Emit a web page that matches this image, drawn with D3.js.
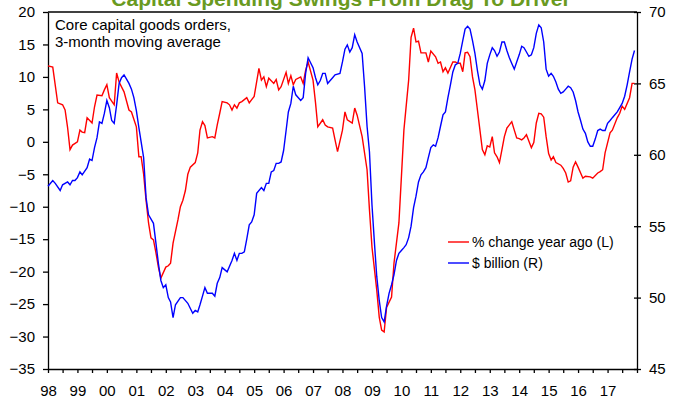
<!DOCTYPE html>
<html>
<head>
<meta charset="utf-8">
<script src="https://cdn.jsdelivr.net/npm/d3@7"></script>
<style>
  body { margin: 0; background: #fff; }
  svg { display: block; font-family: "Liberation Sans", Arial, sans-serif; }
</style>
</head>
<body>
<div id="chart"></div>
<script>
const title = "Capital Spending Swings From Drag To Driver";
const note = ["Core capital goods orders,", "3-month moving average"];
const seriesNames = ["% change year ago (L)", "$ billion (R)"];
const leftTicks = [-35, -30, -25, -20, -15, -10, -5, 0, 5, 10, 15, 20];
const rightTicks = [45, 50, 55, 60, 65, 70];

// [months since Jan 1998, % change year ago]
const pctChange = [
    [0, 11.7], [2, 11.5], [4, 6.0], [6, 5.7], [7, 4.9], [8, 2.2], [9, -1.2], [10, -0.5],
    [12, 0.0], [13, 1.8], [14, 1.5], [15, 1.4], [16, 3.7], [18, 2.9], [19, 5.4], [20, 7.2],
    [22, 7.1], [23, 8.0], [24, 8.8], [25, 6.8], [27, 5.7], [28, 10.6], [29, 9.2], [31, 7.7],
    [33, 4.9], [34, 4.6], [36, 2.3], [37, -2.3], [38, -2.3], [39, -5.0], [40, -9.0], [41, -12.5],
    [42, -14.8], [43, -15.1], [44, -17.1], [45, -19.3], [46, -21.0], [48, -19.3], [49, -19.1], [50, -18.7],
    [51, -15.6], [53, -12.0], [54, -10.0], [55, -9.0], [56, -7.5], [57, -5.0], [58, -3.9], [60, -3.2],
    [61, -1.7], [62, 1.8], [63, 3.1], [64, 2.5], [65, 0.6], [67, 0.8], [68, 0.6], [69, 2.6],
    [70, 4.4], [71, 6.2], [73, 6.0], [74, 5.7], [75, 4.9], [76, 5.7], [77, 5.2], [78, 6.0],
    [79, 6.2], [81, 6.8], [82, 6.0], [83, 6.5], [84, 7.0], [86, 11.3], [87, 9.5], [88, 10.0],
    [89, 8.5], [90, 9.8], [92, 9.0], [93, 9.6], [94, 8.0], [95, 8.5], [97, 10.7], [98, 9.0],
    [99, 10.2], [100, 8.8], [101, 9.6], [103, 10.0], [104, 9.0], [105, 11.0], [106, 12.3], [108, 9.5],
    [109, 6.0], [110, 2.3], [112, 3.4], [113, 2.6], [114, 2.3], [116, 2.1], [117, 0.3], [118, -1.5],
    [120, 1.8], [121, 4.6], [122, 3.4], [124, 2.9], [125, 5.2], [126, 4.1], [128, 0.8], [130, -4.3],
    [131, -10.5], [132, -16.2], [134, -22.8], [135, -27.0], [136, -29.0], [137, -29.3], [138, -25.5], [140, -23.9],
    [141, -18.7], [143, -12.5], [144, -5.4], [145, 1.8], [147, 9.5], [148, 16.1], [149, 17.5], [150, 15.4],
    [151, 15.5], [152, 13.7], [154, 13.7], [155, 12.3], [156, 14.0], [158, 13.1], [159, 12.1], [160, 12.3],
    [161, 10.8], [162, 11.4], [163, 10.6], [165, 12.3], [166, 12.3], [167, 12.1], [168, 12.1], [169, 10.8],
    [170, 13.7], [171, 13.8], [172, 13.1], [173, 10.0], [174, 8.0], [175, 4.9], [176, 1.8], [177, -1.2],
    [178, -2.0], [179, -0.6], [180, -0.8], [181, 0.8], [182, -1.7], [183, -2.3], [184, -3.2], [185, -1.2],
    [186, 0.8], [187, 2.1], [189, 3.1], [190, 1.8], [191, 0.6], [192, 0.5], [193, 0.3], [194, 0.6],
    [195, 1.1], [197, -0.9], [198, -0.1], [199, 2.9], [200, 4.4], [201, 4.3], [202, 3.8], [203, 0.8],
    [204, -1.8], [205, -2.8], [206, -2.3], [207, -3.2], [209, -3.6], [210, -4.1], [211, -4.8], [212, -6.2],
    [213, -6.0], [214, -3.9], [215, -3.1], [216, -3.9], [218, -5.6], [219, -5.3], [221, -5.4], [222, -5.6],
    [224, -4.8], [225, -4.6], [226, -4.3], [227, -1.7], [229, 1.4], [230, 1.8], [232, 3.7], [233, 4.4],
    [234, 5.5], [235, 5.0], [237, 6.8], [238, 9.0], [239, 9.0]
];

// [months since Jan 1998, $ billion]
const billions = [
    [0, 57.8], [2, 58.2], [3, 58.0], [5, 57.5], [6, 57.9], [8, 58.1], [9, 57.9], [10, 58.2],
    [11, 58.2], [12, 58.4], [13, 58.8], [14, 58.6], [16, 59.1], [17, 59.7], [18, 59.6], [19, 60.5],
    [20, 61.2], [21, 62.3], [22, 62.2], [23, 62.9], [24, 63.8], [25, 63.3], [26, 62.4], [27, 62.2],
    [28, 63.5], [29, 65.0], [30, 65.4], [31, 65.6], [32, 65.3], [33, 65.0], [34, 64.6], [35, 64.0],
    [36, 63.1], [37, 61.9], [39, 59.8], [40, 57.0], [41, 55.8], [43, 55.2], [44, 53.8], [45, 52.4],
    [46, 51.2], [47, 50.7], [48, 50.9], [49, 50.0], [50, 49.7], [51, 48.6], [52, 49.5], [54, 50.0],
    [55, 50.0], [57, 49.6], [59, 48.9], [60, 49.1], [61, 49.0], [62, 49.5], [63, 50.1], [64, 50.7],
    [65, 50.3], [67, 50.3], [68, 50.1], [69, 51.0], [70, 51.4], [71, 52.1], [73, 51.8], [75, 52.6],
    [76, 53.1], [77, 52.6], [78, 53.1], [79, 53.1], [80, 53.2], [81, 54.1], [82, 55.1], [83, 55.3],
    [84, 55.8], [85, 57.3], [87, 57.7], [88, 57.5], [89, 58.0], [90, 58.0], [91, 58.8], [92, 58.9],
    [93, 59.4], [94, 59.4], [95, 59.5], [96, 60.3], [97, 61.7], [98, 63.0], [99, 63.6], [100, 64.8],
    [101, 64.2], [103, 63.8], [104, 64.0], [105, 65.7], [106, 66.8], [108, 66.1], [109, 65.4], [110, 64.9],
    [111, 65.2], [112, 65.7], [113, 65.7], [114, 65.0], [116, 65.4], [117, 65.6], [119, 65.7], [120, 66.5],
    [121, 67.4], [122, 67.7], [123, 67.2], [124, 67.5], [125, 68.4], [126, 67.9], [128, 67.1], [129, 64.8],
    [130, 62.0], [131, 60.2], [132, 56.5], [133, 53.8], [134, 51.5], [135, 49.8], [136, 48.6], [137, 48.3],
    [138, 49.4], [139, 50.3], [140, 50.9], [141, 51.6], [142, 52.6], [143, 53.1], [144, 53.3], [145, 53.5],
    [146, 53.7], [147, 54.2], [148, 55.0], [149, 56.3], [150, 57.1], [151, 58.1], [152, 58.6], [153, 58.8],
    [154, 59.1], [155, 59.8], [156, 60.5], [157, 60.7], [158, 60.6], [159, 61.2], [160, 62.0], [161, 62.8],
    [162, 63.0], [163, 64.0], [164, 64.9], [165, 65.8], [166, 66.3], [167, 66.4], [168, 67.1], [169, 68.0],
    [170, 68.8], [171, 69.0], [172, 68.8], [173, 68.0], [174, 67.1], [175, 65.9], [176, 64.9], [177, 64.6],
    [178, 65.2], [179, 66.4], [180, 67.0], [181, 67.5], [182, 67.3], [183, 66.9], [184, 67.2], [185, 67.9],
    [186, 67.9], [187, 67.3], [188, 66.8], [189, 66.4], [190, 66.0], [191, 66.5], [192, 67.0], [193, 67.6],
    [194, 67.5], [195, 67.2], [196, 66.9], [197, 67.0], [198, 67.5], [199, 68.5], [200, 69.1], [201, 68.9],
    [202, 67.9], [203, 66.0], [204, 65.5], [205, 65.7], [206, 65.5], [207, 65.1], [208, 64.6], [209, 64.3],
    [210, 64.4], [211, 64.6], [212, 64.8], [213, 64.7], [214, 64.4], [215, 63.8], [216, 63.0], [217, 62.4],
    [218, 61.8], [219, 61.5], [220, 60.9], [221, 60.6], [222, 60.6], [223, 61.1], [224, 61.7], [225, 61.8],
    [226, 61.7], [227, 61.7], [228, 62.2], [229, 62.4], [230, 62.6], [231, 62.8], [232, 63.0], [233, 63.3],
    [234, 63.6], [235, 64.1], [236, 64.9], [237, 65.8], [238, 66.7], [239, 67.3]
];

const width = 677, height = 400;
const plotLeft = 48, plotRight = 637, plotTop = 12, plotBottom = 369;

const svg = d3.select("#chart").append("svg")
    .attr("width", width)
    .attr("height", height);

const start = new Date(1998, 0, 1);
const end = new Date(2018, 0, 1);
const toDate = m => new Date(1998, m, 1);

const xScale = d3.scaleTime().domain([start, end]).range([plotLeft, plotRight]);
const yLeft = d3.scaleLinear().domain([-35, 20]).range([plotBottom, plotTop]);
const yRight = d3.scaleLinear().domain([45, 70]).range([plotBottom, plotTop]);

// title (sits mostly above the picture, only the lower part shows)
svg.append("text")
    .attr("x", 341)
    .attr("y", 6)
    .attr("text-anchor", "middle")
    .attr("font-size", 21)
    .attr("font-weight", "bold")
    .attr("fill", "#6a9a1f")
    .text(title);

// axes
const halfYears = d3.timeMonth.range(start, d3.timeMonth.offset(end, 1), 6);

const xAxis = svg.append("g")
    .attr("transform", `translate(0,${plotBottom})`)
    .call(d3.axisBottom(xScale)
        .tickValues(halfYears)
        .tickSize(4)
        .tickSizeOuter(0)
        .tickPadding(12)
        .tickFormat(d => d.getMonth() === 0 && d < end ? d3.timeFormat("%y")(d) : ""));

const leftAxis = svg.append("g")
    .attr("transform", `translate(${plotLeft},0)`)
    .call(d3.axisLeft(yLeft).tickValues(leftTicks).tickSize(5).tickSizeOuter(0).tickPadding(8));

const rightAxis = svg.append("g")
    .attr("transform", `translate(${plotRight},0)`)
    .call(d3.axisRight(yRight).tickValues(rightTicks).tickSize(4).tickSizeOuter(0).tickPadding(8));
rightAxis.selectAll(".tick line").attr("x1", -3);

[xAxis, leftAxis, rightAxis].forEach(g => {
    g.attr("font-size", 15).attr("font-family", null);
    g.selectAll("path, line").attr("stroke", "#000").attr("stroke-width", 1.3);
    g.selectAll("text").attr("fill", "#000");
});

svg.append("line")
    .attr("x1", plotLeft).attr("x2", plotRight)
    .attr("y1", plotTop).attr("y2", plotTop)
    .attr("stroke", "#000")
    .attr("stroke-width", 1.3);

// series
const redLine = d3.line()
    .x(d => xScale(toDate(d[0])))
    .y(d => yLeft(d[1]));

const blueLine = d3.line()
    .x(d => xScale(toDate(d[0])))
    .y(d => yRight(d[1]));

svg.append("path")
    .datum(pctChange)
    .attr("fill", "none")
    .attr("stroke", "#ff0000")
    .attr("stroke-width", 1.4)
    .attr("d", redLine);

svg.append("path")
    .datum(billions)
    .attr("fill", "none")
    .attr("stroke", "#0000ff")
    .attr("stroke-width", 1.4)
    .attr("d", blueLine);

// note
svg.append("g")
    .selectAll("text")
    .data(note)
    .enter().append("text")
    .attr("x", 55)
    .attr("y", (d, i) => 30 + i * 17)
    .attr("font-size", 15)
    .attr("fill", "#000")
    .text(d => d);

// legend
const legend = svg.append("g")
    .selectAll("g")
    .data(seriesNames)
    .enter().append("g")
    .attr("transform", (d, i) => `translate(448,${242 + i * 21})`);

legend.append("line")
    .attr("x1", 0).attr("x2", 21)
    .attr("stroke", (d, i) => i === 0 ? "#ff0000" : "#0000ff")
    .attr("stroke-width", 1.4);

legend.append("text")
    .attr("x", 24)
    .attr("dy", "0.35em")
    .attr("font-size", 14)
    .attr("fill", "#000")
    .text(d => d);
</script>
</body>
</html>
